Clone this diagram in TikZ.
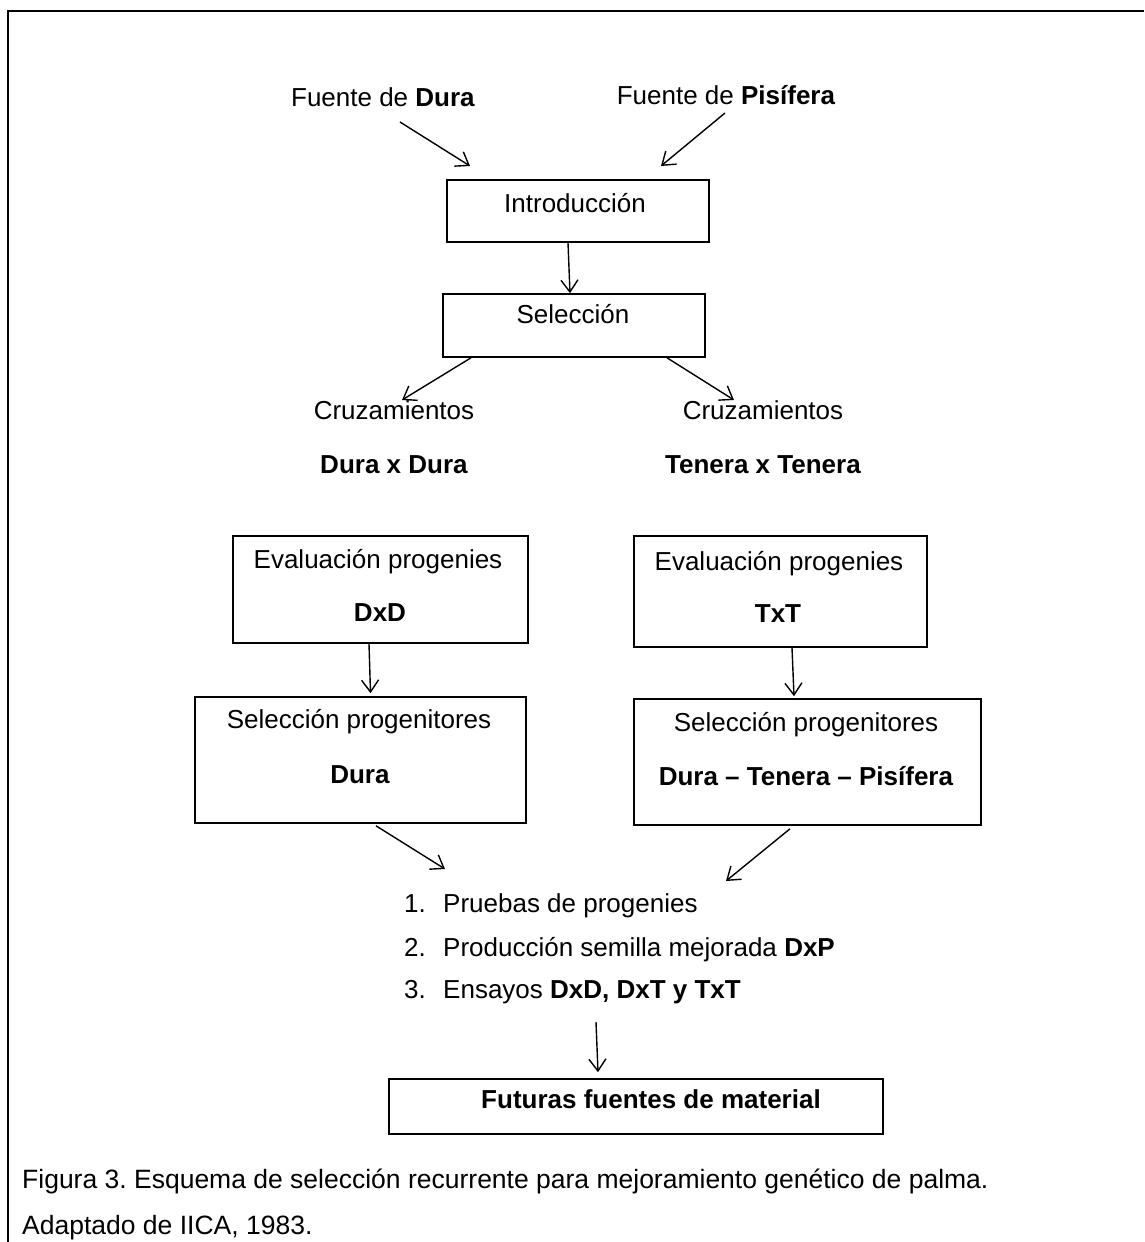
\documentclass[tikz,border=0pt]{standalone}
\usepackage{fontspec}
\setmainfont{Liberation Sans}
\usetikzlibrary{arrows.meta,calc}
\frenchspacing
\begin{document}
\begin{tikzpicture}[x=1pt,y=-1pt,
  box/.style={draw,line width=1.6pt,inner sep=0pt},
  txt/.style={inner sep=0pt,anchor=base,font=\fontsize{26}{30}\selectfont},
  lst/.style={txt,anchor=base west},
  arr/.style={line width=1.4pt,-{Straight Barb[length=12pt,width=17pt]}}]
  \useasboundingbox (0,0) rectangle (1144,1242);
  \draw[line width=2pt] (8,1242) -- (8,11) -- (1144,11);

  \node[box,minimum width=262pt,minimum height=62pt] (Intro) at (578,211) {};
  \node[box,minimum width=262pt,minimum height=63pt] (Selec) at (574,325.5) {};
  \node[box,minimum width=295pt,minimum height=107pt] (EvalD) at (380.5,589.5) {};
  \node[box,minimum width=293pt,minimum height=111pt] (EvalT) at (780.5,591.5) {};
  \node[box,minimum width=331pt,minimum height=126pt] (ProgD) at (360.5,760) {};
  \node[box,minimum width=347pt,minimum height=126pt] (ProgT) at (807.5,762) {};
  \node[box,minimum width=494pt,minimum height=55pt] (Futuras) at (636,1106.5) {};

  \node[txt] (FuenteD) at (383,106) {Fuente de \textbf{Dura}};
  \node[txt] (FuenteP) at (726,104) {Fuente de \textbf{Pisífera}};
  \node[txt] (IntroT) at (575,212) {Introducción};
  \node[txt] (SelecT) at (573,323) {Selección};
  \node[txt] (CruzD) at (394,419) {Cruzamientos};
  \node[txt] (CruzT) at (763,419) {Cruzamientos};
  \node[txt] (CruzDb) at (394,473) {\textbf{Dura x Dura}};
  \node[txt] (CruzTb) at (763,473) {\textbf{Tenera x Tenera}};
  \node[txt] (EvalDa) at (378,568) {Evaluación progenies};
  \node[txt] (EvalDb) at (380,621) {\textbf{DxD}};
  \node[txt] (EvalTa) at (779,570) {Evaluación progenies};
  \node[txt] (EvalTb) at (778,622) {\textbf{TxT}};
  \node[txt] (ProgDa) at (359,728) {Selección progenitores};
  \node[txt] (ProgDb) at (360,783) {\textbf{Dura}};
  \node[txt] (ProgTa) at (806,731) {Selección progenitores};
  \node[txt] (ProgTb) at (806,785) {\textbf{Dura – Tenera – Pisífera}};
  \node[lst] (N1) at (404,912) {1.};
  \node[lst] (L1) at (443,912) {Pruebas de progenies};
  \node[lst] (N2) at (404,956) {2.};
  \node[lst] (L2) at (443,956) {Producción semilla mejorada \textbf{DxP}};
  \node[lst] (N3) at (404,998) {3.};
  \node[lst] (L3) at (443,998) {Ensayos \textbf{DxD, DxT y TxT}};
  \node[txt] (FuturasT) at (651,1108) {\textbf{Futuras fuentes de material}};

  \node[lst,font=\fontsize{26.5}{30}\selectfont] (Cap1) at (22,1188) {Figura 3. Esquema de selección recurrente para mejoramiento genético de palma.};
  \node[lst,font=\fontsize{26.5}{30}\selectfont] (Cap2) at (22,1234) {Adaptado de IICA, 1983.};

  \draw[arr] ($(FuenteD.base)+(17,16)$) -- ($(Intro.center)+(-108,-45)$);
  \draw[arr] ($(FuenteP.base)+(-1,9)$) -- ($(Intro.center)+(83,-45)$);
  \draw[arr] ($(Intro.south)+(-10,0)$) -- ($(Selec.north)+(-4,0)$);
  \draw[arr] ($(Selec.south)+(-103,0)$) -- ($(CruzD.base)+(8,-19)$);
  \draw[arr] ($(Selec.south)+(93,0)$) -- ($(CruzT.base)+(-29,-19)$);
  \draw[arr] ($(EvalD.south)+(-11.5,0)$) -- ($(ProgD.north)+(10,-3)$);
  \draw[arr] ($(EvalT.south)+(11.5,0)$) -- ($(ProgT.north)+(-13.5,-2)$);
  \draw[arr] ($(ProgD.south)+(15.5,2)$) -- ($(L1.base west)+(2,-43)$);
  \draw[arr] ($(ProgT.south)+(-17.5,3)$) -- ($(L1.base west)+(283,-31)$);
  \draw[arr] ($(L3.base west)+(153,24)$) -- ($(Futuras.north)+(-38,-6)$);
\end{tikzpicture}
\end{document}
